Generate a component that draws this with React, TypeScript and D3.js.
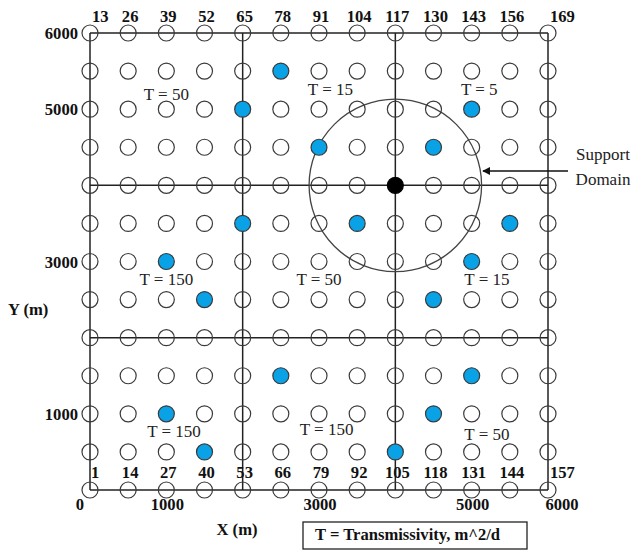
import React from "react";
import * as d3 from "d3";

const gridValues = d3.range(0, 6001, 500);
const gridLines = [0, 2000, 4000, 6000];
const yTicks = [6000, 5000, 3000, 1000];
const xTicks = [0, 1000, 3000, 5000, 6000];
const bottomNodeLabels = ["1", "14", "27", "40", "53", "66", "79", "92", "105", "118", "131", "144", "157"];
const topNodeLabels = ["13", "26", "39", "52", "65", "78", "91", "104", "117", "130", "143", "156", "169"];
const blueNodes = [77, 63, 141, 88, 127, 60, 99, 151, 33, 137, 45, 123, 69, 134, 29, 120, 41, 106];
const centerNode = 113;
const supportRadius = 1130;
const zoneLabelText = ["T = 50", "T = 15", "T = 5", "T = 150", "T = 50", "T = 15", "T = 150", "T = 150", "T = 50"];
const zoneLabelX = [1000, 3150, 5100, 1000, 3000, 5200, 1100, 3100, 5200];
const zoneLabelY = [5120, 5190, 5190, 2690, 2690, 2690, 700, 720, 660];

const W = 631;
const H = 550;

export default function App() {
  const x = d3.scaleLinear().domain([0, 6000]).range([90, 548]);
  const y = d3.scaleLinear().domain([0, 6000]).range([490, 33]);
  const serif = "'Liberation Serif', 'Times New Roman', serif";
  const nodes: { id: number; gx: number; gy: number }[] = [];
  gridValues.forEach((gx, ci) =>
    gridValues.forEach((gy, ri) => nodes.push({ id: ci * 13 + ri + 1, gx, gy }))
  );
  const r = 8;
  const cx = nodes.find((n) => n.id === centerNode)!;
  const pxPerM = (x(6000) - x(0)) / 6000;
  const bfs = 16.6;
  const rfs = 17;

  return (
    <svg width={W} height={H} style={{ position: "absolute", left: 0, top: 0, background: "#fff" }} fontFamily={serif}>
      {gridLines.map((g) => (
        <line key={"v" + g} x1={x(g)} x2={x(g)} y1={y(0)} y2={y(6000)} stroke="#222" strokeWidth={1.5} />
      ))}
      {gridLines.map((g) => (
        <line key={"h" + g} y1={y(g)} y2={y(g)} x1={x(0)} x2={x(6000)} stroke="#222" strokeWidth={1.5} />
      ))}
      <circle cx={x(cx.gx)} cy={y(cx.gy)} r={supportRadius * pxPerM} fill="none" stroke="#444" strokeWidth={1.3} />
      {nodes.map((n) => {
        const isBlue = blueNodes.includes(n.id);
        const isCenter = n.id === centerNode;
        return (
          <circle
            key={n.id}
            cx={x(n.gx)}
            cy={y(n.gy)}
            r={r}
            fill={isCenter ? "#000" : isBlue ? "#0aa2e6" : "none"}
            stroke={isCenter ? "#000" : "#3a3a3a"}
            strokeWidth={1.2}
          />
        );
      })}
      {bottomNodeLabels.map((t, i) => (
        <text
          key={"b" + t}
          x={i === 0 ? x(gridValues[i]) + 1 : x(gridValues[i]) + 2}
          y={y(0) - 12}
          textAnchor={i === 0 || i === 12 ? "start" : "middle"}
          fontWeight="bold"
          fontSize={bfs}
          fill="#111"
        >
          {t}
        </text>
      ))}
      {topNodeLabels.map((t, i) => (
        <text
          key={"t" + t}
          x={x(gridValues[i]) + 2}
          y={y(6000) - 11}
          textAnchor={i === 0 || i === 12 ? "start" : "middle"}
          fontWeight="bold"
          fontSize={bfs}
          fill="#111"
        >
          {t}
        </text>
      ))}
      {yTicks.map((t) => (
        <text key={"yt" + t} x={78} y={y(t) + 6} textAnchor="end" fontWeight="bold" fontSize={bfs} fill="#111">
          {t}
        </text>
      ))}
      {xTicks.map((t) => (
        <text
          key={"xt" + t}
          x={t === 0 ? x(t) - 10 : t === 6000 ? x(t) + 14 : x(t) + 1}
          y={y(0) + 20}
          textAnchor="middle"
          fontWeight="bold"
          fontSize={bfs}
          fill="#111"
        >
          {t}
        </text>
      ))}
      <text x={8} y={315} fontWeight="bold" fontSize={bfs} fill="#111">Y (m)</text>
      <text x={237} y={535} textAnchor="middle" fontWeight="bold" fontSize={bfs} fill="#111">X (m)</text>
      {zoneLabelText.map((t, i) => (
        <text key={"z" + i} x={x(zoneLabelX[i])} y={y(zoneLabelY[i])} textAnchor="middle" fontSize={rfs} fill="#222">
          {t}
        </text>
      ))}
      <defs>
        <marker id="arr" viewBox="0 0 10 10" refX={9} refY={5} markerWidth={8} markerHeight={8} orient="auto-start-reverse" markerUnits="userSpaceOnUse">
          <path d="M0,0 L10,5 L0,10 z" fill="#111" />
        </marker>
      </defs>
      <line x1={568} x2={483} y1={171} y2={171} stroke="#111" strokeWidth={1.3} markerEnd="url(#arr)" />
      <text x={603} y={160} textAnchor="middle" fontSize={rfs} fill="#222">Support</text>
      <text x={603} y={185} textAnchor="middle" fontSize={rfs} fill="#222">Domain</text>
      <rect x={303} y={522} width={224} height={27} fill="#fff" stroke="#222" strokeWidth={1.3} />
      <text x={315} y={540} fontWeight="bold" fontSize={bfs} fill="#111">T = Transmissivity, m^2/d</text>
    </svg>
  );
}
